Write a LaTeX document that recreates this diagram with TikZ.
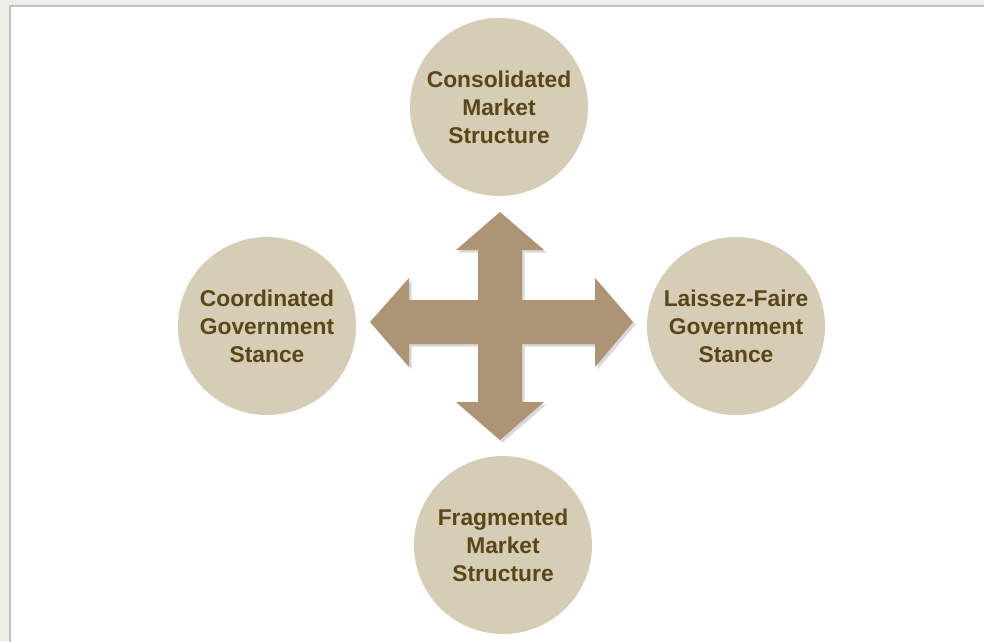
\documentclass[tikz,border=0pt]{standalone}
\usepackage{fontspec}
\setmainfont{Liberation Sans}
\usetikzlibrary{shadows}
\definecolor{bggrey}{HTML}{EFEDE9}
\definecolor{bordergrey}{HTML}{C2C2C2}
\definecolor{circfill}{HTML}{D6CDB6}
\definecolor{crossfill}{HTML}{AD9474}
\definecolor{txtbrown}{HTML}{5A4718}
\tikzset{
  bubble/.style={circle, fill=circfill, minimum size=178pt, inner sep=0pt,
    align=center, text=txtbrown, font=\fontsize{22.8}{28}\selectfont\bfseries},
  crossshape/.style={fill=crossfill, draw=none,
    drop shadow={opacity=0.3, shadow xshift=2.5pt, shadow yshift=-2.5pt}}
}
\begin{document}
\begin{tikzpicture}[x=1pt, y=-1pt]
\useasboundingbox (0,0) rectangle (984,641);
\fill[bggrey] (0,0) rectangle (984,641);
\fill[white] (10,6) rectangle (990,650);
\draw[bordergrey, line width=2pt] (10,660) -- (10,6) -- (990,6);

\node[bubble] (top) at (499,107) {Consolidated\\Market\\Structure};
\node[bubble] (left) at (267,326) {Coordinated\\Government\\Stance};
\node[bubble] (right) at (736,326) {Laissez-Faire\\Government\\Stance};
\node[bubble] (bottom) at (503,545) {Fragmented\\Market\\Structure};

\coordinate (c) at (500,322);
\path[crossshape]
  (c) ++(-22,-22) -- ++(0,-50) -- ++(-22,0) -- (500,212) -- (544,250) -- ++(-22,0)
  -- (522,300) -- (595,300) -- (595,278) -- (633,322) -- (595,367) -- (595,344)
  -- (522,344) -- (522,402) -- (544,402) -- (500,440) -- (456,402) -- (478,402)
  -- (478,344) -- (409,344) -- (409,367) -- (370,322) -- (409,278) -- (409,300)
  -- (478,300) -- cycle;
\end{tikzpicture}
\end{document}
